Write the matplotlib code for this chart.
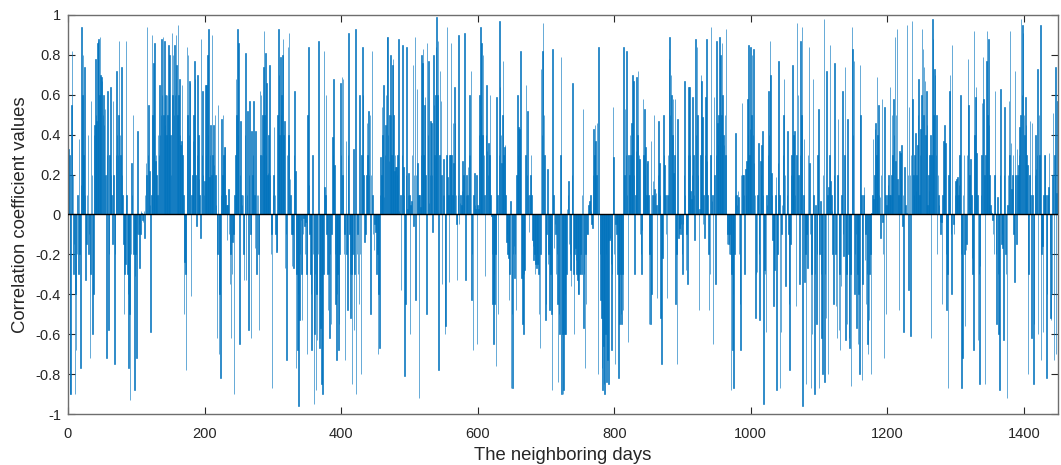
import numpy as np
import matplotlib
matplotlib.use("Agg")
import matplotlib.pyplot as plt

plt.rcParams['font.family'] = ['Liberation Sans', 'DejaVu Sans']

# correlation coefficient value for each neighboring day
corr_values = [
    0.33, 0.3, -0.9, -0.9, 0.55, 0.82, 0.2, -0.3, -0.15, -0.9,
    -0.4, -0.68, -0.2, 0.1, -0.3, 0.38, -0.2, -0.77, 0.15, 0.94,
    0.6, 0.8, 0.3, 0.74, 0.1, -0.33, -0.15, 0.1, 0.4, -0.2,
    -0.1, -0.72, -0.3, 0.57, 0.2, -0.6, -0.4, 0.4, 0.45, 0.78,
    0.5, 0.47, 0.86, 0.87, 0.88, 0.6, 0.89, 0.7, 0.69, 0.67,
    0.5, 0.6, 0.45, 0.53, 0.2, -0.72, 0.3, 0.62, -0.58, -0.2,
    0.3, 0.64, 0.2, 0.1, -0.15, 0.57, 0.2, -0.75, -0.2, 0.3,
    0.72, 0.4, 0.3, 0.5, 0.87, 0.4, 0.3, 0.74, 0.2, 0.1,
    -0.15, -0.5, -0.3, -0.25, 0.87, 0.1, -0.3, -0.4, -0.77, -0.5,
    -0.93, -0.2, 0.26, 0.1, 0.5, -0.2, -0.88, -0.31, -0.2, -0.72,
    -0.1, 0.42, -0.1, -0.05, -0.27, -0.1, 0.02, 0.01, -0.03, -0.04,
    0.02, -0.12, 0.1, 0.26, 0.2, 0.94, 0.3, 0.55, 0.22, 0.05,
    -0.59, 0.1, 0.9, 0.5, 0.76, 0.4, 0.86, 0.27, 0.3, 0.2,
    0.1, 0.4, 0.3, 0.65, 0.4, 0.5, 0.88, 0.6, 0.89, 0.5,
    0.87, 0.45, 0.6, 0.4, 0.6, 0.5, 0.85, 0.6, 0.8, 0.4,
    0.2, 0.91, 0.6, 0.8, 0.5, 0.85, 0.6, 0.9, 0.75, 0.5,
    0.95, 0.6, 0.68, 0.4, 0.35, 0.37, 0.65, 0.3, 0.1, -0.5,
    -0.24, -0.3, -0.78, 0.84, 0.5, 0.8, 0.4, 0.67, 0.66, -0.41,
    0.1, 0.2, 0.37, 0.5, 0.77, 0.68, 0.2, -0.06, 0.3, 0.7,
    0.4, 0.18, 0.1, -0.12, 0.88, 0.3, 0.62, 0.2, 0.1, 0.17,
    0.65, 0.3, 0.65, 0.8, 0.4, 0.93, 0.19, 0.3, 0.45, 0.2,
    0.9, 0.3, 0.45, 0.25, 0.5, 0.2, 0.05, -0.62, -0.2, 0.55,
    -0.7, -0.4, -0.82, 0.1, 0.48, 0.2, 0.5, 0.3, 0.34, 0.34,
    0.1, 0.05, -0.13, 0.05, 0.13, -0.1, -0.35, -0.2, -0.62, -0.3,
    -0.14, -0.1, -0.9, 0.1, 0.3, 0.68, 0.5, 0.93, 0.4, 0.86,
    -0.65, 0.2, 0.47, 0.1, 0.05, 0.1, -0.2, -0.33, 0.4, 0.81,
    -0.33, 0.1, 0.52, -0.58, 0.2, 0.57, -0.1, -0.62, 0.42, 0.2,
    0.3, 0.57, 0.1, -0.17, 0.42, -0.3, 0.1, 0.1, -0.2, -0.58,
    0.62, 0.3, 0.6, 0.3, 0.5, 0.74, 0.92, 0.5, 0.81, 0.3,
    0.66, 0.2, 0.21, 0.4, 0.75, 0.2, -0.2, -0.1, -0.87, 0.1,
    0.2, 0.44, 0.1, -0.1, -0.19, -0.18, 0.5, 0.93, 0.7, 0.4,
    0.79, 0.5, 0.6, 0.8, 0.88, 0.4, 0.47, -0.27, -0.1, -0.73,
    0.3, 0.84, 0.4, 0.91, 0.18, 0.1, -0.1, -0.26, -0.1, -0.27,
    0.3, 0.62, 0.22, -0.77, -0.3, -0.68, -0.4, -0.96, -0.53, -0.2,
    -0.03, -0.3, -0.53, -0.1, -0.02, -0.06, -0.2, -0.04, -0.3, -0.7,
    0.5, 0.84, 0.15, -0.1, -0.3, -0.4, -0.68, 0.3, -0.2, -0.95,
    -0.6, -0.3, -0.88, -0.4, -0.63, -0.2, 0.87, -0.67, -0.4, -0.57,
    -0.85, -0.5, -0.9, -0.3, 0.82, 0.14, 0.1, 0.6, -0.1, -0.3,
    -0.48, -0.3, -0.62, -0.2, -0.55, -0.1, 0.39, 0.3, 0.68, 0.25,
    -0.2, -0.45, -0.73, -0.4, -0.3, -0.68, -0.55, -0.2, 0.66, 0.3,
    0.69, 0.2, 0.68, -0.2, -0.1, -0.73, 0.37, -0.2, -0.48, 0.3,
    0.91, -0.1, -0.3, -0.52, -0.3, -0.85, -0.2, 0.33, -0.58, -0.3,
    0.93, -0.9, -0.2, -0.1, -0.3, -0.45, 0.6, -0.2, -0.8, 0.3,
    0.84, 0.6, 0.2, -0.14, -0.05, -0.1, 0.2, 0.46, 0.3, 0.52,
    0.2, 0.5, -0.5, 0.2, 0.82, 0.1, -0.1, -0.18, -0.05, -0.09,
    -0.08, -0.3, -0.2, -0.7, -0.4, -0.67, 0.1, 0.29, 0.2, 0.54,
    0.4, 0.65, 0.09, 0.3, 0.45, 0.6, 0.89, 0.89, 0.4, 0.27,
    0.5, 0.8, 0.5, 0.3, 0.75, 0.78, 0.5, 0.22, 0.3, 0.24,
    0.24, 0.2, 0.3, 0.88, 0.02, 0.01, 0.1, -0.38, 0.3, 0.85,
    0.24, 0.1, -0.81, -0.45, 0.2, 0.84, 0.03, 0.1, 0.21, 0.1,
    -0.6, 0.05, 0.07, 0.3, 0.75, -0.06, 0.2, 0.89, -0.43, 0.2,
    0.63, 0.26, 0.1, -0.92, 0.1, 0.04, 0.3, 0.8, 0.76, 0.83,
    0.3, 0.55, 0.59, 0.2, -0.5, 0.86, 0.4, 0.77, 0.06, 0.2,
    0.47, 0.46, 0.2, -0.09, 0.8, 0.55, 0.3, 0.6, 0.84, 0.99,
    0.6, 0.87, -0.78, 0.3, 0.72, 0.57, 0.2, -0.35, 0.1, 0.28,
    0.1, -0.6, -0.56, 0.3, 0.94, 0.19, 0.1, -0.34, 0.3, 0.3,
    0.86, 0.3, 0.1, 0.46, 0.26, 0.64, 0.46, 0.1, -0.05, -0.33,
    0.1, 0.9, -0.05, 0.06, 0.1, 0.05, 0.12, 0.27, 0.2, 0.1,
    0.91, -0.33, 0.1, 0.2, 0.1, 0.24, 0.3, 0.6, 0.3, 0.72,
    -0.43, -0.2, -0.68, 0.1, 0.21, 0.05, 0.03, 0.2, -0.65, 0.05,
    0.03, 0.4, 0.6, 0.94, 0.5, 0.86, 0.4, 0.8, 0.3, 0.1,
    -0.31, 0.4, 0.65, 0.32, 0.2, 0.36, 0.3, 0.6, 0.1, -0.01,
    -0.2, -0.45, -0.65, -0.3, -0.45, -0.2, -0.76, 0.59, 0.1, -0.5,
    0.3, 0.97, 0.64, 0.4, 0.26, 0.5, 0.77, 0.3, 0.34, 0.35,
    0.1, -0.14, -0.1, -0.2, -0.22, -0.43, -0.3, 0.07, -0.87, -0.5,
    -0.87, -0.2, -0.16, -0.32, -0.2, -0.48, 0.2, 0.6, 0.3, 0.44,
    0.43, 0.3, 0.82, -0.32, -0.2, -0.55, -0.6, -0.3, -0.28, 0.3,
    0.65, 0.2, 0.52, 0.1, -0.09, 0.1, 0.2, 0.3, 0.1, -0.13,
    -0.16, -0.23, -0.2, -0.3, -0.25, -0.27, -0.2, -0.25, -0.3, -0.5,
    -0.67, -0.2, 0.73, 0.4, 0.82, 0.96, 0.5, 0.3, -0.53, -0.45,
    -0.1, 0.23, -0.25, -0.2, -0.48, -0.2, -0.3, -0.5, -0.88, 0.83,
    0.1, -0.17, -0.05, -0.1, -0.3, -0.2, -0.45, -0.84, -0.5, -0.6,
    0.3, 0.79, -0.9, -0.6, -0.9, -0.88, -0.6, -0.4, -0.6, -0.3,
    0.03, 0.1, 0.17, -0.15, -0.2, -0.28, -0.36, 0.2, 0.66, -0.3,
    -0.6, -0.2, -0.17, -0.23, -0.3, -0.33, -0.4, -0.4, -0.3, -0.3,
    -0.2, -0.3, 0.1, 0.53, -0.57, -0.3, -0.77, -0.2, -0.45, -0.1,
    -0.1, 0.05, 0.03, 0.07, 0.1, 0.02, -0.05, -0.07, 0.2, 0.43,
    0.3, 0.45, 0.37, 0.2, 0.46, -0.8, 0.84, 0.01, -0.2, -0.43,
    -0.52, -0.77, -0.88, -0.66, -0.85, -0.9, -0.6, -0.2, -0.84, -0.73,
    -0.14, -0.85, -0.13, -0.12, -0.25, -0.68, -0.3, 0.54, 0.29, -0.2,
    -0.75, -0.05, -0.1, -0.05, -0.3, -0.82, -0.4, -0.55, -0.3, -0.5,
    -0.55, -0.3, -0.48, 0.84, 0.2, 0.53, 0.3, 0.82, 0.1, -0.64,
    0.3, 0.2, 0.4, 0.3, 0.46, 0.3, 0.7, 0.67, 0.2, -0.3,
    0.1, 0.32, 0.69, 0.4, 0.72, 0.3, 0.28, -0.1, -0.2, -0.3,
    -0.08, 0.58, 0.3, 0.53, 0.2, 0.34, 0.1, 0.26, 0.27, 0.1,
    -0.55, -0.2, -0.55, 0.37, -0.4, 0.1, 0.17, 0.5, 0.13, 0.1,
    0.11, 0.05, -0.42, 0.2, 0.47, 0.26, 0.1, -0.52, -0.75, -0.2,
    -0.22, 0.5, 0.3, 0.25, 0.1, -0.1, -0.42, 0.1, 0.3, 0.78,
    0.89, 0.5, 0.7, 0.6, 0.4, 0.58, 0.21, 0.3, 0.58, -0.45,
    -0.2, -0.75, 0.48, -0.12, -0.1, -0.07, -0.1, -0.05, -0.2, -0.3,
    -0.05, 0.2, 0.67, 0.1, -0.28, -0.1, -0.35, 0.3, 0.64, 0.64,
    0.3, 0.12, 0.08, 0.2, 0.59, 0.3, 0.1, -0.13, 0.88, 0.4,
    0.84, 0.5, 0.2, -0.48, 0.03, 0.3, 0.7, 0.67, 0.49, -0.05,
    0.1, -0.12, 0.3, 0.59, 0.88, 0.27, 0.1, -0.2, -0.48, -0.3,
    0.3, 0.94, 0.07, 0.1, -0.65, 0.59, 0.2, -0.35, 0.3, 0.87,
    0.46, 0.35, 0.5, 0.89, 0.4, 0.8, 0.5, 0.86, 0.6, 0.4,
    0.35, 0.5, 0.3, 0.93, -0.15, -0.1, -0.15, -0.2, -0.1, -0.2,
    -0.88, -0.3, -0.68, -0.4, -0.87, -0.2, 0.1, 0.41, 0.1, 0.05,
    0.12, 0.09, -0.2, -0.45, -0.68, 0.2, 0.56, 0.2, 0.2, 0.1,
    -0.3, 0.23, 0.1, 0.27, 0.58, 0.4, 0.85, 0.3, 0.43, 0.84,
    0.5, 0.8, 0.4, 0.83, 0.26, 0.1, -0.52, -0.3, -0.29, 0.1,
    0.36, -0.2, -0.53, 0.27, 0.2, 0.35, 0.42, 0.1, -0.95, -0.28,
    -0.3, -0.59, 0.1, 0.05, 0.3, 0.62, 0.4, 0.87, 0.7, 0.21,
    0.1, -0.13, -0.46, -0.2, -0.28, 0.1, 0.19, -0.88, -0.2, 0.26,
    0.77, 0.1, -0.87, -0.59, -0.1, 0.05, 0.3, 0.5, 0.68, 0.2,
    -0.36, 0.0, 0.1, 0.42, -0.1, -0.45, -0.78, -0.15, 0.2, 0.3,
    0.75, 0.2, 0.4, 0.42, 0.1, -0.46, 0.3, 0.96, 0.6, 0.2,
    -0.35, 0.3, 0.87, 0.5, 0.94, -0.96, 0.1, 0.38, -0.34, -0.2,
    -0.85, -0.1, -0.27, 0.3, 0.84, 0.26, -0.1, -0.87, -0.3, -0.6,
    0.68, 0.1, -0.9, -0.3, 0.05, -0.55, -0.2, 0.3, 0.53, -0.87,
    -0.2, 0.07, -0.3, -0.62, -0.8, 0.2, 0.98, -0.84, -0.3, -0.52,
    0.72, 0.1, -0.8, 0.14, 0.3, 0.85, 0.17, 0.1, 0.02, -0.2,
    -0.45, 0.2, 0.76, -0.2, -0.46, -0.62, 0.2, 0.48, -0.58, -0.3,
    -0.68, -0.36, 0.1, 0.62, -0.1, -0.21, 0.3, 0.74, -0.63, -0.3,
    -0.55, 0.48, -0.2, -0.62, -0.67, -0.3, -0.86, 0.94, 0.83, 0.4,
    0.77, -0.4, -0.2, -0.1, -0.57, -0.3, -0.65, -0.4, -0.8, 0.75,
    0.5, 0.1, -0.83, -0.35, 0.1, 0.14, -0.23, -0.1, -0.45, -0.3,
    -0.65, -0.7, -0.53, -0.3, -0.2, -0.8, 0.01, 0.1, 0.38, 0.08,
    0.2, 0.43, 0.46, 0.3, 0.69, 0.4, 0.55, 0.1, 0.09, -0.12,
    0.2, 0.58, -0.04, -0.2, -0.72, 0.54, 0.1, -0.5, 0.05, 0.1,
    0.15, 0.2, 0.1, 0.64, 0.1, 0.2, 0.5, 0.3, 0.58, 0.4,
    0.89, 0.27, 0.5, 0.93, 0.18, 0.1, -0.48, 0.32, 0.31, 0.18,
    0.35, -0.06, 0.1, -0.59, 0.24, 0.01, 0.05, 0.01, 0.95, 0.2,
    -0.38, 0.54, 0.2, -0.61, 0.3, 0.97, 0.58, 0.2, 0.1, 0.3,
    0.41, 0.12, 0.2, 0.35, 0.5, 0.68, 0.1, 0.3, 0.43, 0.6,
    0.93, 0.83, 0.5, 0.74, 0.67, 0.4, 0.62, 0.45, 0.05, 0.2,
    0.12, 0.3, 0.4, -0.62, 0.3, 0.98, 0.88, 0.5, 0.73, 0.7,
    0.3, 0.5, -0.2, 0.2, 0.1, 0.05, -0.04, -0.1, -0.04, -0.45,
    0.1, 0.37, 0.2, 0.45, 0.36, -0.2, -0.48, -0.3, -0.87, 0.2,
    0.62, 0.7, -0.1, -0.4, 0.85, 0.0, -0.05, -0.1, 0.1, 0.17,
    0.18, 0.1, 0.19, 0.1, 0.15, 0.3, 0.6, -0.2, -0.87, -0.72,
    0.1, 0.3, -0.2, -0.56, -0.18, -0.15, 0.3, 0.78, 0.55, 0.2,
    0.04, 0.28, 0.1, -0.22, -0.3, -0.68, 0.92, 0.4, 0.59, 0.64,
    0.31, 0.1, -0.63, -0.3, -0.85, -0.26, 0.1, 0.3, 0.56, 0.79,
    0.58, 0.2, -0.85, 0.3, 0.77, 0.92, 0.5, 0.88, 0.45, 0.2,
    0.05, 0.02, 0.01, -0.03, -0.1, -0.2, 0.2, 0.62, -0.2, -0.55,
    0.09, -0.3, -0.6, -0.88, 0.2, 0.63, -0.15, -0.1, -0.17, -0.63,
    0.2, 0.54, -0.2, -0.3, -0.92, 0.05, 0.2, 0.57, 0.3, 0.92,
    0.36, 0.13, 0.2, 0.3, -0.1, -0.34, 0.72, 0.2, -0.15, 0.33,
    0.2, 0.25, 0.3, 0.44, 0.5, 0.98, 0.6, 0.95, 0.91, 0.5,
    0.4, 0.59, 0.45, 0.3, 0.25, -0.8, -0.3, 0.2, 0.47, 0.1,
    -0.62, 0.46, 0.1, -0.85, -0.55, 0.2, 0.4, 0.23, 0.3, 0.73,
    -0.6, 0.5, 0.3, 0.95, -0.73, -0.2, -0.16, -0.59, 0.1, 0.3,
    0.3, 0.1, -0.82, -0.4, 0.1, 0.14, 0.31, -0.2, -0.52, -0.53,
    -0.4, 0.2, 0.51, -0.73, 0.3, 0.74, -0.7, 0.11, 0.57, -0.05,
]

x_ticks = [0, 200, 400, 600, 800, 1000, 1200, 1400]
y_ticks = [-1, -0.8, -0.6, -0.4, -0.2, 0, 0.2, 0.4, 0.6, 0.8, 1]
y_tick_labels = ['-1', '-0.8', '-0.6', '-0.4', '-0.2', '0', '0.2', '0.4', '0.6', '0.8', '1']
x_label = 'The neighboring days'
y_label = 'Correlation coefficient values'

bar_color = '#0072BD'
axis_color = '#262626'
spine_color = '#6e6e6e'

fig = plt.figure(figsize=(10.61, 4.65), dpi=100)
ax = fig.add_axes([68 / 1061, 51 / 465, 990 / 1061, 399 / 465])

days = np.arange(1, len(corr_values) + 1)
ax.bar(days, corr_values, width=0.8, color=bar_color, edgecolor=bar_color,
       linewidth=0.42, zorder=2)
ax.axhline(0, color='black', linewidth=1.0, zorder=3)

ax.set_xlim(0, 1450)
ax.set_ylim(-1, 1)
ax.set_xticks(x_ticks)
ax.set_xticklabels([str(t) for t in x_ticks])
ax.set_yticks(y_ticks)
ax.set_yticklabels(y_tick_labels)

ax.tick_params(direction='in', length=5, width=0.8, colors=axis_color,
               labelsize=10.5, top=True, right=True, labeltop=False, labelright=False)
ax.tick_params(axis='x', pad=9)
ax.tick_params(axis='y', pad=5)
for sp in ax.spines.values():
    sp.set_color(spine_color)
    sp.set_linewidth(1.0)

ax.set_xlabel(x_label, fontsize=13.3, color=axis_color, labelpad=5)
ax.set_ylabel(y_label, fontsize=13.3, color=axis_color, labelpad=5)

fig.savefig('out.png', dpi=100)
